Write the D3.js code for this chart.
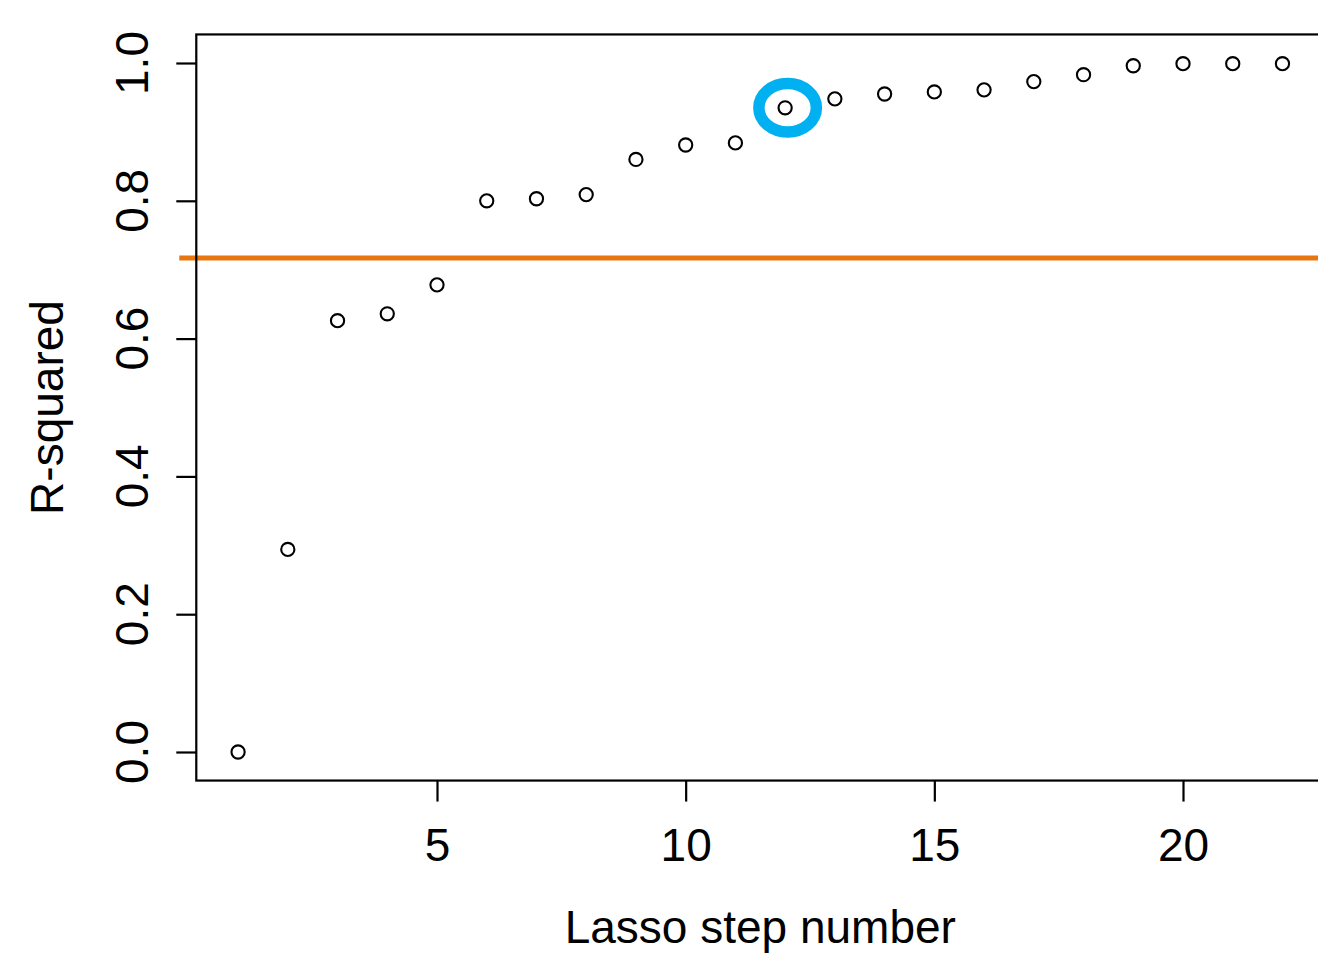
<!DOCTYPE html>
<html>
<head>
<meta charset="utf-8">
<script src="https://cdn.jsdelivr.net/npm/d3@7"></script>
<style>
  html, body { margin: 0; padding: 0; background: #fff; }
  svg { display: block; }
  text { font-family: "Liberation Sans", Arial, Helvetica, sans-serif; fill: #000; }
</style>
</head>
<body>
<svg id="chart" width="1318" height="954"></svg>
<script>
// Lasso path: R-squared reached at each step
const steps = [1, 2, 3, 4, 5, 6, 7, 8, 9, 10, 11, 12, 13, 14, 15, 16, 17, 18, 19, 20, 21, 22];
const rSquared = [0.000, 0.294, 0.626, 0.636, 0.678, 0.800, 0.803, 0.809, 0.860, 0.881, 0.884,
                  0.935, 0.948, 0.955, 0.958, 0.961, 0.973, 0.983, 0.996, 0.999, 0.999, 0.999];

// Reference level drawn as a horizontal line
const thresholdR2 = [0.717];

// Highlighted step (ring annotation centre, in data units)
const highlightStep = [12.05];
const highlightR2 = [0.935];

const xTickValues = [5, 10, 15, 20];
const yTickValues = [0.0, 0.2, 0.4, 0.6, 0.8, 1.0];
const xTitle = "Lasso step number";
const yTitle = "R-squared";

const svg = d3.select("#chart");

// Scales: data limits padded by 4% on each side
const xDomain = [1, 22];
const yDomain = [0, 1];
const xPad = (xDomain[1] - xDomain[0]) * 0.04;
const yPad = (yDomain[1] - yDomain[0]) * 0.04;

const x = d3.scaleLinear().domain([5, 20]).range([437, 1183]);
const y = d3.scaleLinear().domain([0, 1]).range([752, 63]);

const frameLeft = x(xDomain[0] - xPad);
const frameRight = x(xDomain[1] + xPad);
const frameTop = y(yDomain[1] + yPad) - 1;
const frameBottom = y(yDomain[0] - yPad) + 1;

const fontSize = 46;

// Reference line (extends slightly past the left frame edge)
svg.append("line")
  .attr("x1", frameLeft - 17)
  .attr("x2", 1318)
  .attr("y1", y(thresholdR2[0]))
  .attr("y2", y(thresholdR2[0]))
  .attr("stroke", "#E8760E")
  .attr("stroke-width", 5);

// Plot frame
svg.append("rect")
  .attr("x", frameLeft)
  .attr("y", frameTop)
  .attr("width", frameRight - frameLeft)
  .attr("height", frameBottom - frameTop)
  .attr("fill", "none")
  .attr("stroke", "#000")
  .attr("stroke-width", 2.2);

// X axis ticks
const xAxis = svg.append("g")
  .attr("transform", `translate(0,${frameBottom})`)
  .call(d3.axisBottom(x).tickValues(xTickValues).tickSize(21).tickFormat(d3.format("d")));
xAxis.select(".domain").remove();
xAxis.selectAll(".tick line").attr("stroke", "#000").attr("stroke-width", 2.2);
xAxis.selectAll(".tick text")
  .attr("y", 861 - frameBottom)
  .attr("dy", 0)
  .style("font-family", '"Liberation Sans", Arial, sans-serif')
  .style("font-size", fontSize + "px")
  .attr("fill", "#000");

// Y axis ticks
const yAxis = svg.append("g")
  .attr("transform", `translate(${frameLeft},0)`)
  .call(d3.axisLeft(y).tickValues(yTickValues).tickSize(20).tickFormat(() => ""));
yAxis.select(".domain").remove();
yAxis.selectAll(".tick line").attr("stroke", "#000").attr("stroke-width", 2.2);

// Y tick labels, rotated
svg.append("g")
  .selectAll("text")
  .data(yTickValues)
  .join("text")
  .attr("transform", d => `translate(148,${y(d)}) rotate(-90)`)
  .attr("text-anchor", "middle")
  .style("font-size", fontSize + "px")
  .text(d => d3.format(".1f")(d));

// Axis titles
svg.append("text")
  .attr("x", (frameLeft + frameRight) / 2)
  .attr("y", 943)
  .attr("text-anchor", "middle")
  .style("font-size", fontSize + "px")
  .text(xTitle);

svg.append("text")
  .attr("transform", `translate(63,${(frameTop + frameBottom) / 2}) rotate(-90)`)
  .attr("text-anchor", "middle")
  .style("font-size", fontSize + "px")
  .text(yTitle);

// Highlight ring
svg.append("ellipse")
  .attr("cx", x(highlightStep[0]))
  .attr("cy", y(highlightR2[0]))
  .attr("rx", 28.75)
  .attr("ry", 24.25)
  .attr("fill", "none")
  .attr("stroke", "#00B0F0")
  .attr("stroke-width", 11.5);

// Points (open circles)
svg.append("g")
  .selectAll("circle")
  .data(steps.map((s, i) => ({ step: s, r2: rSquared[i] })))
  .join("circle")
  .attr("cx", d => x(d.step))
  .attr("cy", d => y(d.r2))
  .attr("r", 6.6)
  .attr("fill", "none")
  .attr("stroke", "#000")
  .attr("stroke-width", 2.1);
</script>
</body>
</html>
